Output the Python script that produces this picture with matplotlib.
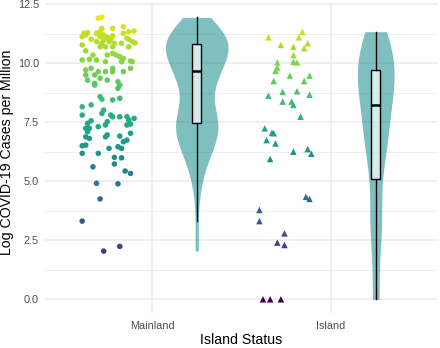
import numpy as np
import matplotlib
matplotlib.use("Agg")
import matplotlib.pyplot as plt
from matplotlib.ticker import MultipleLocator, FormatStrFormatter

plt.rcParams["font.family"] = ["Liberation Sans", "DejaVu Sans"]

categories = ["Mainland", "Island"]

mainland_vals = [
    11.90, 11.94, 11.54, 11.47, 11.47, 11.29, 11.26, 11.19, 11.33, 11.19, 11.26, 11.33, 11.36, 11.26,
    11.12, 11.01, 11.12, 11.09, 11.01, 11.15, 10.91, 10.98, 10.91, 10.84, 10.84, 11.01, 10.91, 11.05,
    10.86, 10.84, 10.77, 10.69, 10.69, 10.69, 10.69,
    10.52, 10.34, 10.34, 10.41, 10.34, 10.27, 10.20, 10.06, 10.13, 10.16, 10.13, 10.06, 10.06, 10.09,
    9.71, 9.78, 9.50, 9.28, 9.50, 9.64, 9.64, 9.78, 9.64, 9.64, 9.78, 9.14, 9.07, 9.28, 9.21, 9.07,
    8.93, 9.36,
    8.58, 8.47, 8.44, 8.51,
    8.15, 8.23, 8.01, 7.87, 7.80, 7.73, 7.73, 7.73, 7.59, 7.42, 7.66, 7.80, 7.56, 7.31, 7.45, 7.52,
    7.38, 7.38,
    7.24, 7.24, 7.10, 6.91, 7.03, 6.74, 6.88, 6.81, 6.88, 6.96, 6.67, 6.39, 6.46, 6.50, 6.53, 6.39,
    6.18, 6.18, 6.01, 5.99, 5.73, 5.61, 5.43, 5.33, 4.91, 4.89, 4.25, 3.31, 2.24, 2.04,
]
mainland_jitter = [
    -0.30, -0.28, -0.16, -0.22, -0.28, -0.36, -0.38, -0.37, -0.29, -0.27, -0.31, -0.13, -0.10, -0.16,
    -0.39, -0.34, -0.29, -0.25, -0.23, -0.22, -0.31, -0.27, -0.24, -0.21, -0.17, -0.13, -0.11, -0.14,
    -0.095, -0.28, -0.39, -0.29, -0.26, -0.22, -0.13,
    -0.37, -0.33, -0.25, -0.22, -0.20, -0.18, -0.16, -0.11, -0.39, -0.35, -0.31, -0.26, -0.17, -0.12,
    -0.37, -0.34, -0.37, -0.36, -0.32, -0.30, -0.26, -0.22, -0.22, -0.16, -0.12, -0.32, -0.32, -0.25,
    -0.19, -0.18, -0.19, -0.29,
    -0.29, -0.28, -0.22, -0.18,
    -0.39, -0.34, -0.27, -0.28, -0.23, -0.22, -0.18, -0.14, -0.13, -0.12, -0.10, -0.39, -0.34, -0.30,
    -0.36, -0.25, -0.26, -0.14,
    -0.37, -0.35, -0.36, -0.18, -0.12, -0.14, -0.37, -0.35, -0.26, -0.25, -0.16, -0.24, -0.19, -0.39,
    -0.37, -0.17,
    -0.39, -0.30, -0.21, -0.17, -0.21, -0.33, -0.15, -0.12, -0.31, -0.19, -0.29, -0.39, -0.18, -0.27,
]

island_vals = [
    11.33, 11.09, 11.09, 10.84, 10.77, 10.69, 10.63, 10.34, 10.03, 10.06, 10.03, 9.81, 9.67, 9.47,
    9.47, 9.24, 9.24, 8.78, 8.81, 8.62, 8.66, 8.37, 8.37, 8.23, 7.73, 7.24, 7.05, 7.03, 6.74, 6.60,
    6.25, 6.36, 6.16, 5.94, 4.34, 4.25, 3.78, 3.31, 2.79, 2.40, 2.30, 0.0, 0.0, 0.0,
]
island_jitter = [
    -0.16, -0.35, -0.18, -0.13, -0.28, -0.21, -0.15, -0.21, -0.30, -0.21, -0.19, -0.30, -0.31, -0.23,
    -0.12, -0.32, -0.15, -0.27, -0.19, -0.35, -0.12, -0.27, -0.22, -0.21, -0.17, -0.37, -0.33, -0.32,
    -0.36, -0.31, -0.21, -0.13, -0.11, -0.34, -0.14, -0.12, -0.40, -0.40, -0.26, -0.30, -0.26, -0.38,
    -0.34, -0.28,
]

# box statistics: low whisker, q1, median, q3, high whisker
box_whislo = [3.33, 0.0]
box_q1 = [7.46, 5.11]
box_med = [9.65, 8.21]
box_q3 = [10.80, 9.71]
box_whishi = [11.94, 11.33]

violin_color = "#008080"
violin_full_width = [0.35, 0.205]
axis_title_size = 10.2
tick_size = 7.8
color_max = 12.3
marker_sizes = [16, 22]


def bw_nrd0(x):
    x = np.asarray(x)
    sd = np.std(x, ddof=1)
    iqr = np.subtract(*np.percentile(x, [75, 25]))
    lo = min(sd, iqr / 1.34)
    if lo <= 0:
        lo = sd
    return 0.9 * lo * len(x) ** (-0.2)


def kde(x, grid):
    x = np.asarray(x)
    h = bw_nrd0(x)
    z = (grid[:, None] - x[None, :]) / h
    return np.exp(-0.5 * z ** 2).sum(axis=1) / (len(x) * h * np.sqrt(2 * np.pi))


fig = plt.figure(figsize=(4.4, 3.48), dpi=100)
ax = fig.add_axes([44.6 / 440, 1 - 313.4 / 348, (438.4 - 44.6) / 440, (313.4 - 3.2) / 348])

all_vals = mainland_vals + island_vals
norm = plt.Normalize(min(all_vals), color_max)
cmap = plt.cm.viridis

groups = [mainland_vals, island_vals]
jitters = [mainland_jitter, island_jitter]
markers = ["o", "^"]

# violins (trimmed)
for i, vals in enumerate(groups):
    grid = np.linspace(min(vals), max(vals), 512)
    d = kde(vals, grid)
    xc = i + 1 + 0.25
    w = d / d.max() * violin_full_width[i] / 2
    ax.fill_betweenx(grid, xc - w, xc + w, color=violin_color, alpha=0.5, lw=0, zorder=2)

# boxplots
stats = []
for i in range(2):
    stats.append(dict(whislo=box_whislo[i], q1=box_q1[i], med=box_med[i],
                      q3=box_q3[i], whishi=box_whishi[i], fliers=[]))
ax.bxp(stats, positions=[1.25, 2.25], widths=0.05, showfliers=False, patch_artist=True,
       showcaps=False, manage_ticks=False,
       boxprops=dict(facecolor=(1, 1, 1, 0.7), edgecolor="black", linewidth=1.0),
       whiskerprops=dict(color="black", linewidth=1.0),
       medianprops=dict(color="black", linewidth=1.8), zorder=3)

# jittered points
for i, (vals, jit) in enumerate(zip(groups, jitters)):
    xs = [i + 1 + j for j in jit]
    ax.scatter(xs, vals, c=vals, cmap=cmap, norm=norm, marker=markers[i], s=marker_sizes[i],
               linewidths=0, zorder=4)

ax.set_xlim(0.4, 2.6)
ax.set_ylim(-0.597, 12.537)
ax.set_xticks([1, 2])
ax.set_xticklabels(categories)
ax.yaxis.set_major_locator(MultipleLocator(2.5))
ax.yaxis.set_minor_locator(MultipleLocator(1.25))
ax.yaxis.set_major_formatter(FormatStrFormatter("%.1f"))

ax.grid(True, which="major", color="#EBEBEB", linewidth=1.1, zorder=0)
ax.grid(True, which="minor", axis="y", color="#EBEBEB", linewidth=0.6, zorder=0)
ax.set_axisbelow(True)
for s in ax.spines.values():
    s.set_visible(False)
ax.tick_params(axis="both", which="both", length=0, labelsize=tick_size, colors="#4D4D4D")
ax.tick_params(axis="x", pad=5.5)
ax.tick_params(axis="y", pad=4)

ax.set_xlabel("Island Status", fontsize=axis_title_size)
ax.xaxis.set_label_coords(0.5, -0.064)
ax.set_ylabel("Log COVID-19 Cases per Million", fontsize=axis_title_size)
ax.yaxis.set_label_coords(-0.078, 0.52)

fig.savefig("out.png", dpi=100)
